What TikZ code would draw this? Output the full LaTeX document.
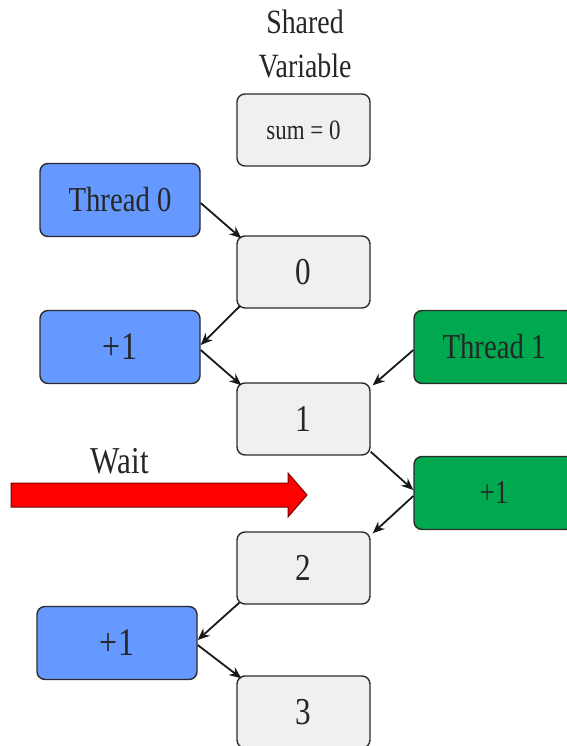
\documentclass[tikz,border=0pt]{standalone}
\usepackage{fontspec}
\setmainfont{Liberation Serif}[FakeStretch=0.82]
\usetikzlibrary{arrows.meta}
\definecolor{boxgray}{HTML}{F0F0F0}
\definecolor{tblue}{HTML}{6699FF}
\definecolor{tgreen}{HTML}{00A84F}
\definecolor{edge}{HTML}{2B2B2B}
\definecolor{waitred}{HTML}{FF0000}
\definecolor{waitedge}{HTML}{7A0000}
\tikzset{
  basebox/.style={draw=edge, line width=1.4pt, rounded corners=8pt, inner sep=0pt, text=black!85},
  valbox/.style={basebox, fill=boxgray, minimum width=133pt, minimum height=72pt, font=\fontsize{38}{40}\selectfont},
  bluebox/.style={basebox, fill=tblue, minimum width=160pt, minimum height=73pt},
  greenbox/.style={basebox, fill=tgreen, minimum width=160pt, minimum height=73pt},
  conn/.style={draw=black!90, line width=1.8pt, -{Stealth[length=12pt,width=10pt]}},
  lbl/.style={text=black!85, inner sep=0pt}
}
\begin{document}
\begin{tikzpicture}[x=1pt,y=-1pt]
\useasboundingbox (0,0) rectangle (566,746);
% header
\node[lbl, align=center, font=\fontsize{34}{44}\selectfont] (hdr) at (305,44) {Shared\\Variable};
% boxes
\node[valbox, font=\fontsize{28}{30}\selectfont] (s) at (303.5,130) {sum = 0};
\node[bluebox, font=\fontsize{35}{36}\selectfont] (t0) at (120,200) {Thread 0};
\node[valbox] (v0) at (303.5,272) {0};
\node[bluebox, font=\fontsize{39}{40}\selectfont] (b1) at (120,347) {+1};
\node[greenbox, font=\fontsize{35}{36}\selectfont] (t1) at (494,347) {Thread 1};
\node[valbox] (v1) at (303.5,419) {1};
\node[greenbox, font=\fontsize{33}{36}\selectfont] (g1) at (494,493) {+1};
\node[valbox] (v2) at (303.5,568) {2};
\node[bluebox, font=\fontsize{39}{40}\selectfont] (b2) at (117,643) {+1};
\node[valbox] (v3) at (303.5,712) {3};
% wait
\node[lbl, font=\fontsize{38}{40}\selectfont] (wait) at (120,461) {Wait};
\draw[fill=waitred, draw=waitedge, line width=1pt]
  (11,483) -- (288,483) -- (288,473) -- (307,495) -- (288,517) -- (288,507) -- (11,507) -- cycle;
% connectors
\draw[conn] ([yshift=-3pt]t0.east) -- ([xshift=5pt,yshift=-3pt]v0.north west);
\draw[conn] ([xshift=4pt,yshift=3pt]v0.south west) -- ([yshift=2pt]b1.east);
\draw[conn] ([yshift=-3pt]b1.east) -- ([xshift=5pt,yshift=-3pt]v1.north west);
\draw[conn] ([yshift=-3pt]t1.west) -- ([xshift=2pt,yshift=-3pt]v1.north east);
\draw[conn] ([yshift=4pt]v1.south east) -- ([yshift=3pt]g1.west);
\draw[conn] ([yshift=-3pt]g1.west) -- ([xshift=2pt,yshift=-2pt]v2.north east);
\draw[conn] ([xshift=3pt,yshift=2pt]v2.south west) -- ([yshift=3pt]b2.east);
\draw[conn] ([yshift=-2pt]b2.east) -- ([xshift=5pt,yshift=-3pt]v3.north west);
\end{tikzpicture}
\end{document}
